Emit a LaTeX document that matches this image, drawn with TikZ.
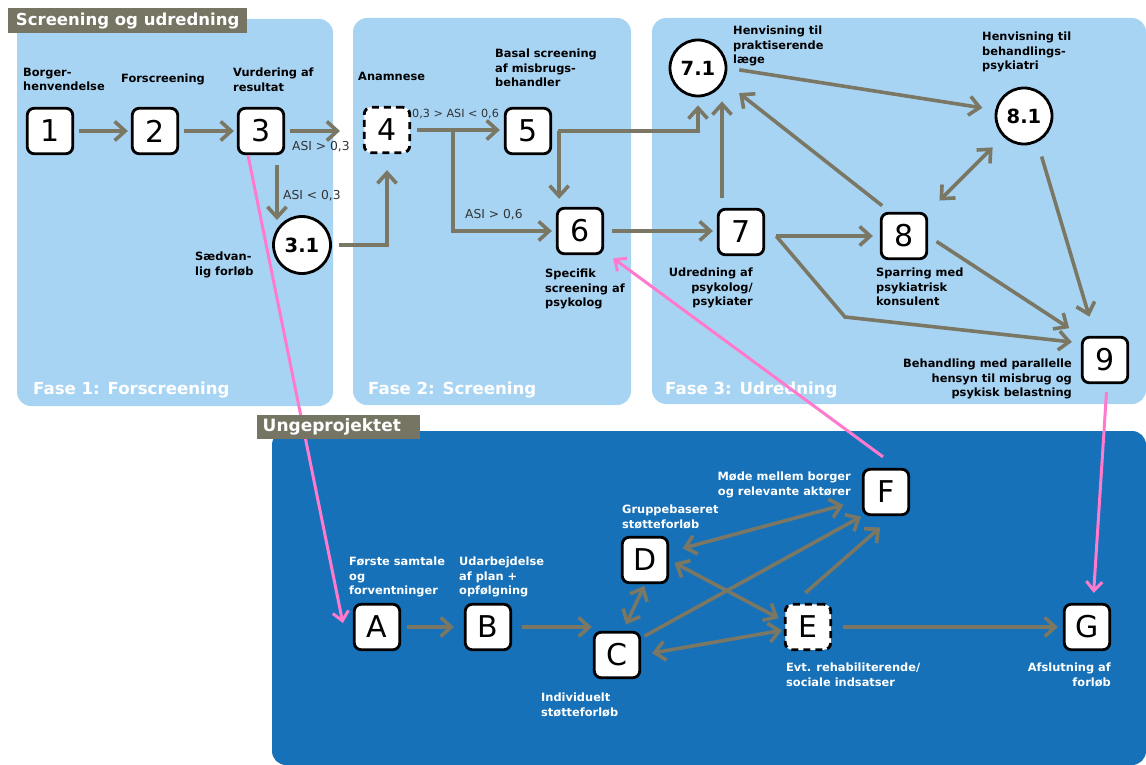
\documentclass[tikz,border=0pt]{standalone}
\usepackage{fontspec}
\setmainfont{DejaVu Sans}
\usetikzlibrary{arrows.meta,calc}
\definecolor{panel}{RGB}{168,212,244}
\definecolor{darkpanel}{RGB}{22,113,184}
\definecolor{arrowgray}{RGB}{122,119,100}
\definecolor{tagray}{RGB}{118,116,99}
\definecolor{pinkline}{RGB}{255,122,204}
\definecolor{edgetext}{RGB}{51,51,51}
\tikzset{
 box/.style={draw=black, line width=2.8pt, fill=white, rounded corners=7pt, minimum size=45.5pt, inner sep=0pt, font=\fontsize{30}{32}\selectfont},
 dbox/.style={box, dash pattern=on 7pt off 5pt},
 circ/.style={circle, draw=black, line width=2.8pt, fill=white, minimum size=57pt, inner sep=0pt, font=\bfseries\fontsize{19.5}{20}\selectfont},
 arr/.style={draw=arrowgray, line width=3.6pt, -{Straight Barb[length=10.5pt,width=19pt]}},
 darr/.style={draw=arrowgray, line width=3.6pt, {Straight Barb[length=10.5pt,width=19pt]}-{Straight Barb[length=10.5pt,width=19pt]}},
 parr/.style={draw=pinkline, line width=3pt, -{Straight Barb[length=9pt,width=16pt]}},
 lbl/.style={font=\bfseries\fontsize{11.4}{14.2}\selectfont, inner sep=0pt, text=black},
 wlbl/.style={lbl, text=white},
 elbl/.style={font=\fontsize{12.3}{14}\selectfont, inner sep=0pt, text=edgetext},
 phase/.style={font=\bfseries\fontsize{16.6}{18}\selectfont, text=white, inner sep=0pt},
 tag/.style={fill=tagray, text=white, inner sep=0pt, anchor=north west},
}
\begin{document}
\begin{tikzpicture}[x=1pt,y=-1pt]
\useasboundingbox (0,0) rectangle (1146,765);
% panels
\fill[panel, rounded corners=14pt] (17,19) rectangle (333,406);
\fill[panel, rounded corners=14pt] (353,18) rectangle (631,405);
\fill[panel, rounded corners=14pt] (652,18) rectangle (1146,404);
\fill[darkpanel, rounded corners=14pt] (272,431) rectangle (1146,765);
% phase labels
\node[phase, anchor=base west] (p1) at (33,394) {Fase 1: Forscreening};
\node[phase, anchor=base west] (p2) at (368,394) {Fase 2: Screening};
\node[phase, anchor=base west] (p3) at (665,394) {Fase 3: Udredning};
% nodes
\node[box] (n1) at (50,131) {1};
\node[box] (n2) at (155,131) {2};
\node[box] (n3) at (261,131) {3};
\node[circ] (n31) at (302,245) {3.1};
\node[dbox] (n4) at (387,130) {4};
\node[box] (n5) at (528,131) {5};
\node[box] (n6) at (580,231) {6};
\node[circ, minimum size=56pt] (n71) at (698,68) {7.1};
\node[box] (n7) at (741,232) {7};
\node[circ, minimum size=56pt] (n81) at (1024,116) {8.1};
\node[box] (n8) at (904,236) {8};
\node[box] (n9) at (1105,360) {9};
\node[box] (nA) at (377,627) {A};
\node[box] (nB) at (488,627) {B};
\node[box] (nC) at (617,655) {C};
\node[box] (nD) at (645,560) {D};
\node[dbox] (nE) at (808,627) {E};
\node[box] (nF) at (886,492) {F};
\node[box] (nG) at (1087,627) {G};
% labels top
\node[lbl, anchor=north west, align=left] (t1) at (23,68) {Borger-\\henvendelse};
\node[lbl, anchor=north west, align=left] (t2) at (121,74) {Forscreening};
\node[lbl, anchor=north west, align=left] (t3) at (233,68) {Vurdering af\\resultat};
\node[lbl, anchor=north west, align=left] (t31) at (195,252) {Sædvan-\\lig forløb};
\node[lbl, anchor=north west, align=left] (t4) at (358,72) {Anamnese};
\node[lbl, anchor=north west, align=left] (t5) at (495,49) {Basal screening\\af misbrugs-\\behandler};
\node[lbl, anchor=north west, align=left] (t6) at (545,269) {Specifik\\screening af\\psykolog};
\node[lbl, anchor=north west, align=left] (t71) at (733,26) {Henvisning til\\praktiserende\\læge};
\node[lbl, anchor=north west, align=left] (t81) at (982,32) {Henvisning til\\behandlings-\\psykiatri};
\node[lbl, anchor=north east, align=right] (t7) at (753,268) {Udredning af\\psykolog/\\psykiater};
\node[lbl, anchor=north west, align=left] (t8) at (876,268) {Sparring med\\psykiatrisk\\konsulent};
\node[lbl, anchor=north east, align=right] (t9) at (1072,359) {Behandling med parallelle\\hensyn til misbrug og\\psykisk belastning};
% labels bottom
\node[wlbl, anchor=north west, align=left] (tA) at (349,557) {Første samtale\\og\\forventninger};
\node[wlbl, anchor=north west, align=left] (tB) at (459,557) {Udarbejdelse\\af plan +\\opfølgning};
\node[wlbl, anchor=north west, align=left] (tD) at (622,505) {Gruppebaseret\\støtteforløb};
\node[wlbl, anchor=north west, align=left] (tC) at (541,693) {Individuelt\\støtteforløb};
\node[wlbl, anchor=north east, align=right] (tF) at (851,472) {Møde mellem borger\\og relevante aktører};
\node[wlbl, anchor=north west, align=left] (tE) at (786,663) {Evt. rehabiliterende/\\sociale indsatser};
\node[wlbl, anchor=north east, align=right] (tG) at (1111,663) {Afslutning af\\forløb};
% edge labels
\node[elbl, anchor=base west] (e1) at (292,151) {ASI > 0,3};
\node[elbl, anchor=base west] (e2) at (283,199) {ASI < 0,3};
\node[elbl, anchor=base west, font=\fontsize{11.2}{14}\selectfont] (e3) at (412,118) {0,3 > ASI < 0,6};
\node[elbl, anchor=base west] (e4) at (465,218) {ASI > 0,6};
% gray connectors top
\draw[arr, shorten <=5pt, shorten >=3pt] (n1.east) -- (n2.west);
\draw[arr, shorten <=5pt, shorten >=3pt] (n2.east) -- (n3.west);
\coordinate (c3r) at (340,131);
\draw[arr, shorten <=5pt] (n3.east) -- (c3r);
\draw[arr] ([xshift=16pt,yshift=-10pt]n3.south) -- ([xshift=-25pt,yshift=25pt]n31.center);
\draw[arr, shorten <=7pt, shorten >=16pt] (n31.east) -| (n4.south);
\draw[arr, shorten <=6pt, shorten >=4pt] (n4.east) -- (n4.east -| n5.west);
\coordinate (br) at (453,130);
\draw[arr, shorten >=4pt] (br) |- (n6.west);
\coordinate (c5) at ([xshift=7pt]n5.east);
\draw[arr, shorten >=8pt] (c5) -- (c5 |- n6.north);
\draw[arr, shorten <=6pt, shorten >=8pt] (n5.east) -| (n71.south);
\draw[arr, shorten <=8pt, shorten >=4pt] (n6.east) -- (n6.east -| n7.west);
\draw[arr, shorten <=10pt, shorten >=4pt] ([xshift=-19pt]n7.north) -- ([xshift=-19pt]n7.north |- n71.south);
\coordinate (s7) at ($(n7.east |- n8.west)+(11,0)$);
\draw[arr, shorten >=7pt] (s7) -- (n8.west);
\coordinate (b7) at (845,317);
\draw[arr, shorten >=9pt] (s7) -- (b7) -- ([yshift=17pt]n9.west);
\draw[arr, shorten <=10pt, shorten >=19pt] ([xshift=-14pt]n8.north) -- (n71.-27);
\draw[arr, shorten <=12pt, shorten >=13pt] (n71.east) -- (n81.168);
\draw[darr, shorten <=16pt, shorten >=15pt] (n8.north east) -- (n81.225);
\draw[arr, shorten <=10pt, shorten >=14pt] (n8.east) -- (n9.north west);
\draw[arr, shorten <=15pt, shorten >=20pt] (n81.-63) -- ([xshift=-10pt]n9.north);
% gray connectors bottom
\draw[arr, shorten <=6pt, shorten >=10pt] (nA.east) -- (nB.west);
\draw[arr, shorten <=10pt, shorten >=1pt] (nB.east) -- (nB.east -| nC.west);
\draw[darr, shorten <=7pt, shorten >=2pt] ([xshift=6pt]nC.north) -- (nD.south);
\draw[arr, shorten <=4pt, shorten >=1pt] ([yshift=17pt]nC.east) -- (nF.south west);
\draw[darr, shorten <=11pt, shorten >=2pt] (nC.east) -- ([yshift=-3pt]nE.west);
\draw[darr, shorten <=6pt, shorten >=6pt] (nD.east) -- ([yshift=6pt]nE.west);
\draw[darr, shorten <=14pt, shorten >=19pt] ([yshift=8pt]nD.east) -- ([yshift=-8pt]nF.west);
\draw[arr, shorten <=15pt, shorten >=17pt] ([xshift=-14pt]nE.north) -- ([xshift=7pt]nF.south);
\draw[arr, shorten <=11pt, shorten >=5pt] (nE.east) -- (nG.west);
% pink connectors
\draw[parr] ([xshift=-13pt]n3.south) -- ([xshift=-10pt,yshift=4pt]nA.west);
\draw[parr] ([xshift=-3pt,yshift=11pt]nF.north) -- ([xshift=9pt,yshift=-3pt]n6.south east);
\draw[parr, shorten <=8pt, shorten >=10pt] ([xshift=2pt]n9.south) -- ([xshift=6pt]nG.north);
% tags
\node[tag, minimum width=239pt, minimum height=25pt, font=\bfseries\fontsize{16.5}{18}\selectfont] (title) at (8,8) {Screening og udredning};
\node[tag, minimum width=163pt, minimum height=24pt, text width=152pt, align=left, font=\bfseries\fontsize{17}{18}\selectfont] (ung) at (257,415) {Ungeprojektet};
\end{tikzpicture}
\end{document}
